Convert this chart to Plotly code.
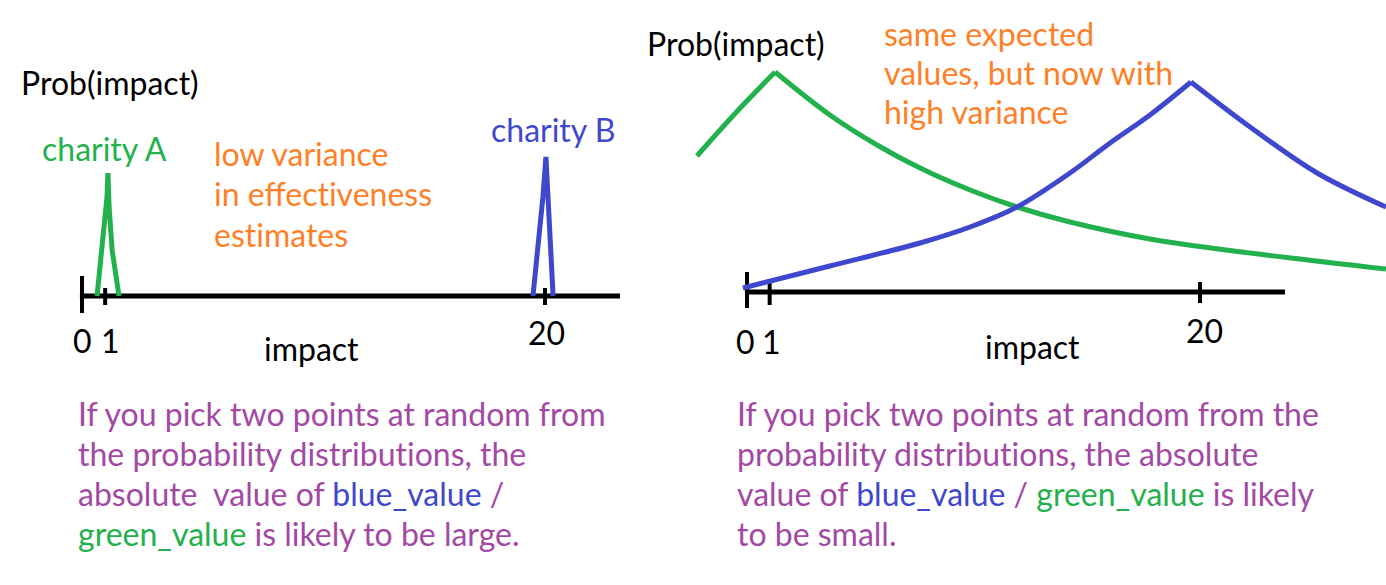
import plotly.graph_objects as go

# ---------------- data (impact units on x, relative density on y) ----------------
# Left panel: low-variance distributions
left_green_x = [0.65, 0.91, 1.08, 1.12, 1.17, 1.30, 1.60]
left_green_y = [0.00, 0.56, 0.99, 1.23, 0.89, 0.46, 0.00]
left_blue_x = [19.48, 19.74, 19.91, 20.04, 20.13, 20.22, 20.35]
left_blue_y = [0.00, 0.56, 0.99, 1.39, 0.96, 0.46, 0.00]

# Right panel: high-variance distributions (rising part, falling part)
right_green_rise_x = [-2.21, -1.19, -0.09, 1.24]
right_green_rise_y = [1.36, 1.62, 1.89, 2.20]
right_green_fall_x = [1.24, 3.66, 5.74, 7.64, 9.85, 11.92, 14.26, 17.79, 22.21, 28.21]
right_green_fall_y = [2.20, 1.77, 1.47, 1.24, 1.02, 0.85, 0.70, 0.53, 0.39, 0.23]
right_blue_rise_x = [-0.18, 3.66, 7.64, 9.85, 11.92, 14.26, 16.03, 17.79, 19.60]
right_blue_rise_y = [0.04, 0.26, 0.49, 0.65, 0.85, 1.19, 1.49, 1.77, 2.10]
right_blue_fall_x = [19.60, 22.21, 25.17, 28.21]
right_blue_fall_y = [2.10, 1.65, 1.19, 0.85]

# Axes (drawn as hand-style lines)
left_axis_x = [-0.09, 23.24]
right_axis_x = [-0.09, 23.75]
tick_values = [0, 1, 20]
tick_labels = ["0", "1", "20"]

# ---------------- styles ----------------
GREEN = "#22B14C"
BLUE = "#3F48CC"
ORANGE = "#FF7F27"
PURPLE = "#A349A4"
BLACK = "#000000"
FONT = "Lato"
FS = 32
W, H = 1386, 585
ZW = "\u200c"  # prevents the font's 't'+'i' ligature


def px(x):
    return x / W


def py(y):
    return 1 - y / H


fig = go.Figure()


def line(x, y, color, width, xa, ya, shape="linear"):
    fig.add_trace(go.Scatter(x=x, y=y, mode="lines", xaxis=xa, yaxis=ya,
                             line=dict(color=color, width=width, shape=shape),
                             hoverinfo="skip", showlegend=False))


# left panel
line(left_axis_x, [0, 0], BLACK, 5, "x", "y")
tick_half_left = {0: (0.20, -0.17), 1: (0.08, -0.09), 20: (0.08, -0.09)}
for t in tick_values:
    top, bot = tick_half_left[t]
    line([t, t], [top, bot], BLACK, 4, "x", "y")
line(left_green_x, left_green_y, GREEN, 5, "x", "y")
line(left_blue_x, left_blue_y, BLUE, 5, "x", "y")

# right panel
line(right_axis_x, [0, 0], BLACK, 5, "x2", "y2")
tick_half_right = {0: (0.20, -0.16), 1: (0.12, -0.13), 20: (0.10, -0.11)}
for t in tick_values:
    top, bot = tick_half_right[t]
    line([t, t], [top, bot], BLACK, 4, "x2", "y2")
line(right_green_rise_x, right_green_rise_y, GREEN, 5, "x2", "y2", "spline")
line(right_green_fall_x, right_green_fall_y, GREEN, 5, "x2", "y2", "spline")
line(right_blue_rise_x, right_blue_rise_y, BLUE, 5, "x2", "y2", "spline")
line(right_blue_fall_x, right_blue_fall_y, BLUE, 5, "x2", "y2", "spline")

annotations = []


def text(s, x, y, color, size=FS, anchor="left"):
    annotations.append(dict(text=s, x=px(x), y=py(y), xref="paper", yref="paper",
                            xanchor=anchor, yanchor="middle", showarrow=False,
                            font=dict(family=FONT, size=size, color=color)))


# left panel labels
text("Prob(impact)", 19, 83, BLACK)
text("charity A", 40, 148, GREEN)
text("charity B", 489, 129, BLUE)
for i, s in enumerate(["low variance", "in effec" + "t" + ZW + "iveness", "est" + ZW + "imates"]):
    text(s, 212, 154 + 40 * i, ORANGE)
text(tick_labels[0], 82, 340, BLACK, anchor="center")
text(tick_labels[1], 111, 340, BLACK, anchor="center")
text(tick_labels[2], 546, 332, BLACK, anchor="center")
text("impact", 262, 348, BLACK)

# right panel labels
text("Prob(impact)", 645, 44, BLACK)
for i, s in enumerate(["same expected", "values, but now with", "high variance"]):
    text(s, 882, 33 + 39.5 * i, ORANGE)
text(tick_labels[0], 746, 341, BLACK, anchor="center")
text(tick_labels[1], 771, 341, BLACK, anchor="center")
text(tick_labels[2], 1204, 330, BLACK, anchor="center")
text("impact", 983, 346, BLACK)


def c(s, col):
    return f'<span style="color:{col}">{s}</span>'


left_lines = [
    "If you pick two points at random from",
    "the probability distribu" + "t" + ZW + "ions, the",
    "absolute\u00a0 value of " + c("blue_value", BLUE) + " /",
    c("green_value", GREEN) + " is likely to be large.",
]
right_lines = [
    "If you pick two points at random from the",
    "probability distribu" + "t" + ZW + "ions, the absolute",
    "value of " + c("blue_value", BLUE) + " / " + c("green_value", GREEN) + " is likely",
    "to be small.",
]
for i, s in enumerate(left_lines):
    text(s, 76, 413 + 40.3 * i, PURPLE)
for i, s in enumerate(right_lines):
    text(s, 735, 413 + 40.3 * i, PURPLE)

s_left = 23.15
s_right = 22.65
fig.update_layout(
    width=W, height=H,
    margin=dict(l=0, r=0, t=0, b=0),
    paper_bgcolor="white", plot_bgcolor="white",
    showlegend=False,
    xaxis=dict(domain=[0, 0.5], range=[-82 / s_left, (693 - 82) / s_left], visible=False, fixedrange=True),
    yaxis=dict(domain=[0, 1], range=[-(H - 296) / 100, 296 / 100], visible=False, fixedrange=True),
    xaxis2=dict(domain=[0.5, 1], range=[-(747 - 693) / s_right, (1386 - 747) / s_right], visible=False,
                anchor="y2", fixedrange=True),
    yaxis2=dict(domain=[0, 1], range=[-(H - 292) / 100, 292 / 100], visible=False, anchor="x2",
                fixedrange=True),
    annotations=annotations,
)

fig.write_html("out.html", config={"displayModeBar": False},
               post_script="document.body.style.margin='0';document.body.style.overflow='hidden';")
